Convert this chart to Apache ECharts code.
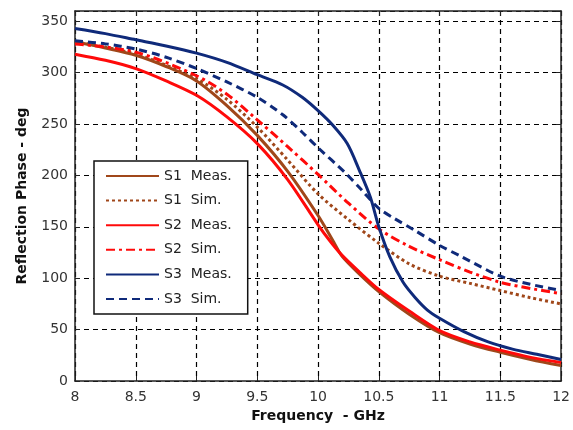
<!DOCTYPE html>
<html>
<head>
<meta charset="utf-8">
<script src="https://cdn.jsdelivr.net/npm/echarts@6/dist/echarts.min.js"></script>
<style>
html,body{margin:0;padding:0;background:#fff;}
#chart{width:573px;height:430px;}
</style>
</head>
<body>
<div id="chart"></div>
<script>
// ---- data ----
const seriesNames = ['S1 Meas.', 'S1 Sim.', 'S2 Meas.', 'S2 Sim.', 'S3 Meas.', 'S3 Sim.'];

const s1MeasF = [8.0, 8.25, 8.5, 8.75, 9.0, 9.25, 9.5, 9.75, 10.0, 10.13, 10.2, 10.35, 10.5, 10.75, 11.0, 11.25, 11.5, 11.75, 12.0];
const s1MeasV = [330, 324, 317, 306, 292, 268, 239, 204, 161, 135, 121, 103, 87, 65, 47, 36, 28, 21, 15];

const s1SimF = [8.0, 8.5, 9.0, 9.25, 9.5, 9.75, 10.0, 10.25, 10.5, 10.75, 11.0, 11.25, 11.5, 11.75, 12.0];
const s1SimV = [330, 318, 294, 274, 247, 215, 182, 157, 134, 114, 102, 95, 88, 81, 75];

const s2MeasF = [8.0, 8.25, 8.5, 8.75, 9.0, 9.25, 9.5, 9.75, 10.0, 10.1, 10.2, 10.35, 10.5, 10.75, 11.0, 11.25, 11.5, 11.75, 12.0];
const s2MeasV = [318, 312, 304, 292, 278, 257, 231, 196, 152, 136, 122, 105, 89, 68, 49, 38, 30, 23, 18];

const s2SimF = [8.0, 8.5, 9.0, 9.25, 9.5, 9.75, 10.0, 10.25, 10.5, 10.75, 11.0, 11.25, 11.5, 11.75, 12.0];
const s2SimV = [328, 320, 297, 279, 254, 228, 201, 173, 148, 131, 118, 106, 96, 90, 85];

const s3MeasF = [8.0, 8.25, 8.5, 8.75, 9.0, 9.25, 9.5, 9.71, 9.87, 10.0, 10.12, 10.24, 10.34, 10.43, 10.5, 10.59, 10.7, 10.8, 10.9, 11.0, 11.2, 11.4, 11.6, 11.8, 12.0];
const s3MeasV = [343, 338, 332, 326, 319, 310, 298, 288, 276, 263, 249, 231, 205, 179, 150, 121, 96, 81, 69, 61, 48, 38, 31, 26, 21];

const s3SimF = [8.0, 8.25, 8.5, 8.75, 9.0, 9.25, 9.5, 9.71, 9.87, 10.0, 10.22, 10.35, 10.5, 10.63, 10.79, 11.0, 11.18, 11.5, 11.75, 12.0];
const s3SimV = [331, 328, 323, 315, 304, 291, 276, 259, 242, 227, 203, 187, 168, 158, 147, 132, 121, 102, 94, 88];

const xTicks = [8, 8.5, 9, 9.5, 10, 10.5, 11, 11.5, 12];
const yTicks = [0, 50, 100, 150, 200, 250, 300, 350];

// ---- styles ----
const BROWN = '#a0471a';
const RED = '#ff0a0a';
const NAVY = '#0f2a7a';
const FONT = 'DejaVu Sans, Verdana, sans-serif';

function pairs(f, v) { return f.map((x, i) => [x, v[i]]); }

const styleDefs = [
  { f: s1MeasF, v: s1MeasV, color: BROWN, type: 'solid' },
  { f: s1SimF, v: s1SimV, color: BROWN, type: [3, 3] },
  { f: s2MeasF, v: s2MeasV, color: RED, type: 'solid' },
  { f: s2SimF, v: s2SimV, color: RED, type: [9, 4, 3, 4] },
  { f: s3MeasF, v: s3MeasV, color: NAVY, type: 'solid' },
  { f: s3SimF, v: s3SimV, color: NAVY, type: [8, 5] }
];

const series = styleDefs.map((d, i) => ({
  name: seriesNames[i],
  type: 'line',
  data: pairs(d.f, d.v),
  symbol: 'none',
  showSymbol: false,
  smooth: 0.3,
  color: d.color,
  itemStyle: { color: d.color },
  lineStyle: { color: d.color, type: d.type, width: 3 },
  z: 3
}));

const tickFont = { fontFamily: FONT, fontSize: 14, color: '#333' };
const gridLine = { show: true, lineStyle: { color: '#000', type: [5, 4], width: 1.2 } };
const frameLine = { show: true, onZero: false, lineStyle: { color: '#222', width: 1.5 } };
const inTick = { show: true, inside: true, length: 5, lineStyle: { color: '#222', width: 1 } };

const option = {
  animation: false,
  backgroundColor: '#fff',
  grid: { left: 75, right: 10, top: 11, bottom: 49, containLabel: false },
  legend: {
    data: seriesNames,
    orient: 'vertical',
    left: 94,
    top: 161,
    itemWidth: 53,
    itemHeight: 14,
    itemGap: 10.6,
    padding: [8, 16, 8, 11],
    backgroundColor: '#fff',
    borderColor: '#111',
    borderWidth: 1.5,
    borderRadius: 0,
    itemStyle: { opacity: 0 },
    formatter: n => n.replace(' ', '  '),
    textStyle: { fontFamily: FONT, fontSize: 14, color: '#222' },
    z: 10
  },
  xAxis: [
    {
      type: 'value', min: 8, max: 12, interval: 0.5, position: 'bottom',
      name: 'Frequency  - GHz', nameLocation: 'middle', nameGap: 28,
      nameTextStyle: { fontFamily: FONT, fontSize: 14, fontWeight: 'bold', color: '#111' },
      axisLine: frameLine, axisTick: inTick,
      axisLabel: Object.assign({ margin: 9, formatter: v => xTicks.includes(v) ? String(v) : '' }, tickFont),
      splitLine: gridLine
    },
    {
      type: 'value', min: 8, max: 12, interval: 0.5, position: 'top',
      axisLine: frameLine, axisTick: inTick, axisLabel: { show: false }, splitLine: { show: false }
    }
  ],
  yAxis: [
    {
      type: 'value', min: 0, max: 360, interval: 50, position: 'left',
      name: 'Reflection Phase - deg', nameLocation: 'middle', nameGap: 46,
      nameTextStyle: { fontFamily: FONT, fontSize: 14, fontWeight: 'bold', color: '#111' },
      axisLine: frameLine, axisTick: inTick,
      axisLabel: Object.assign({ margin: 7, formatter: v => yTicks.includes(v) ? String(v) : '' }, tickFont),
      splitLine: gridLine
    },
    {
      type: 'value', min: 0, max: 360, interval: 50, position: 'right',
      axisLine: frameLine, axisTick: inTick, axisLabel: { show: false }, splitLine: { show: false }
    }
  ],
  series: series
};

const chart = echarts.init(document.getElementById('chart'), null, { renderer: 'canvas' });
chart.setOption(option);
</script>
</body>
</html>
